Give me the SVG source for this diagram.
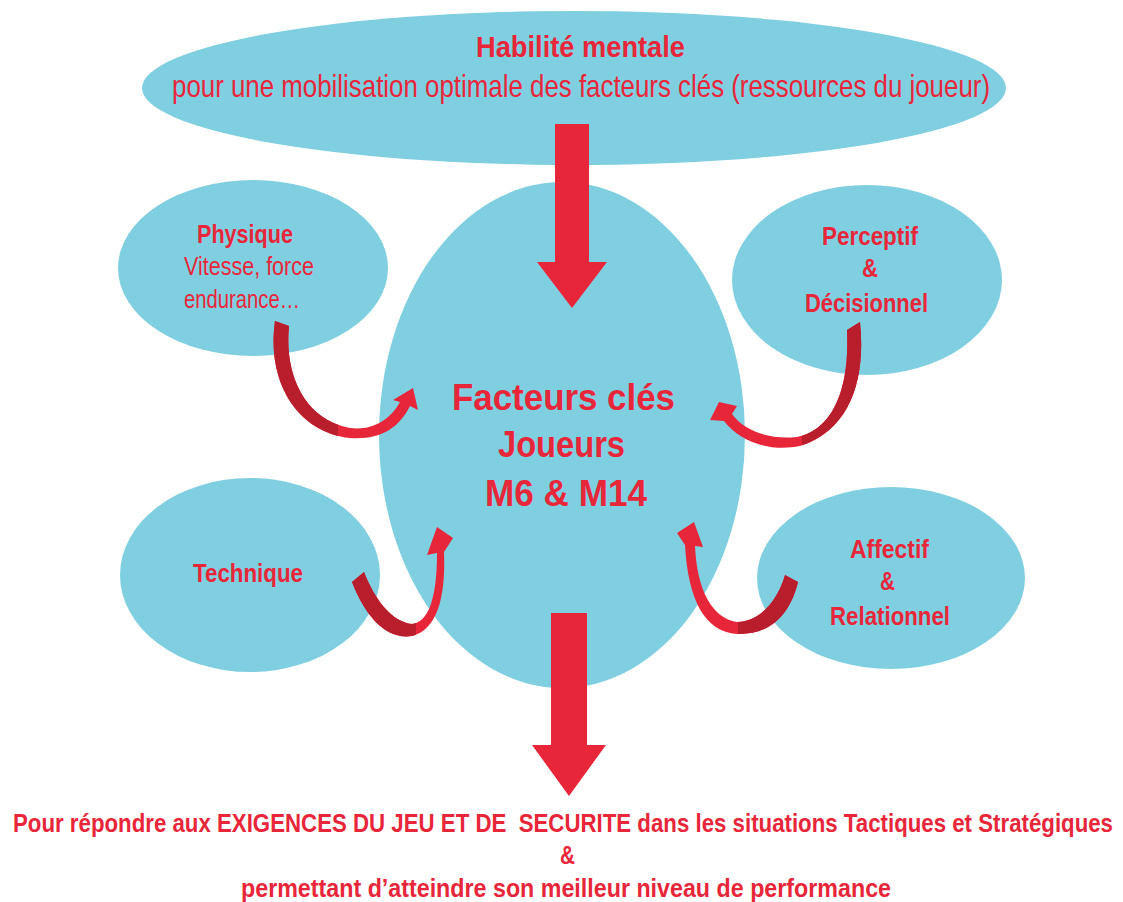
<svg xmlns="http://www.w3.org/2000/svg" width="1123" height="902" viewBox="0 0 1123 902">
<style>
.bub{fill:#80CFE1}
.t{fill:#E8263A;font-family:"Liberation Sans",Arial,sans-serif}
.b{font-weight:bold}
.bright{fill:#E8263A}
.dark{fill:#B81E2C}
</style>
<defs>
<clipPath id="c1"><rect x="0" y="0" width="338" height="902"/></clipPath>
<clipPath id="c2"><rect x="0" y="0" width="416" height="902"/></clipPath>
<clipPath id="c3"><rect x="802" y="0" width="400" height="902"/></clipPath>
<clipPath id="c4"><rect x="738" y="0" width="400" height="902"/></clipPath>
<path id="a1" d="M275,321 L289,326 C284,375 305,420 350,428 C372,431 390,420 400,402 L393,400 L413,388 L418,410 L410,406 C398,430 378,440 350,438 C300,433 266,385 275,321 Z"/>
<path id="a2" d="M352,582 L364,572 C375,600 392,622 412,624 C428,622 437,600 437,553 L427,555 L437,527 L453,538 L444,552 C446,600 436,630 412,636 C385,640 365,615 352,582 Z"/>
<path id="a3" d="M847,330 L860,322 C866,380 850,430 800,446 C770,452 740,442 724,421 L710,420 L719,402 L737,406 L732,414 C745,432 772,440 797,437 C832,430 850,390 847,330 Z"/>
<path id="a4" d="M785,575 L798,582 C790,615 770,635 737,634 C705,632 688,600 685,545 L677,533 L694,522 L703,547 L695,546 C697,590 712,618 737,622 C760,622 778,600 785,575 Z"/>
</defs>
<rect width="1123" height="902" fill="#ffffff"/>

<g id="node-habilite">
<ellipse class="bub" cx="574" cy="88" rx="432" ry="77"/>
<text class="t b" x="476" y="57" font-size="30" textLength="209" lengthAdjust="spacingAndGlyphs">Habilité mentale</text>
<text class="t" x="172" y="97" font-size="32" textLength="818" lengthAdjust="spacingAndGlyphs">pour une mobilisation optimale des facteurs clés (ressources du joueur)</text>
</g>

<g id="node-physique">
<ellipse class="bub" cx="253" cy="268" rx="135" ry="88"/>
<text class="t b" x="197" y="243" font-size="25" textLength="96" lengthAdjust="spacingAndGlyphs">Physique</text>
<text class="t" x="184" y="275" font-size="25" textLength="130" lengthAdjust="spacingAndGlyphs">Vitesse, force</text>
<text class="t" x="184" y="308" font-size="25" textLength="116" lengthAdjust="spacingAndGlyphs">endurance…</text>
</g>

<g id="node-perceptif">
<ellipse class="bub" cx="867" cy="280" rx="135" ry="95"/>
<text class="t b" x="822" y="245" font-size="25" textLength="96" lengthAdjust="spacingAndGlyphs">Perceptif</text>
<text class="t b" x="862" y="277" font-size="25" textLength="16" lengthAdjust="spacingAndGlyphs">&amp;</text>
<text class="t b" x="805" y="312" font-size="25" textLength="123" lengthAdjust="spacingAndGlyphs">Décisionnel</text>
</g>

<g id="node-technique">
<ellipse class="bub" cx="250" cy="575" rx="130" ry="97"/>
<text class="t b" x="193" y="582" font-size="25" textLength="110" lengthAdjust="spacingAndGlyphs">Technique</text>
</g>

<g id="node-affectif">
<ellipse class="bub" cx="891" cy="578" rx="134" ry="91"/>
<text class="t b" x="850" y="558" font-size="25" textLength="79" lengthAdjust="spacingAndGlyphs">Affectif</text>
<text class="t b" x="880" y="590" font-size="25" textLength="15" lengthAdjust="spacingAndGlyphs">&amp;</text>
<text class="t b" x="830" y="625" font-size="25" textLength="120" lengthAdjust="spacingAndGlyphs">Relationnel</text>
</g>

<g id="node-facteurs">
<ellipse class="bub" cx="562" cy="435" rx="183" ry="253"/>
<text class="t b" x="452" y="410" font-size="36" textLength="223" lengthAdjust="spacingAndGlyphs">Facteurs clés</text>
<text class="t b" x="498" y="457" font-size="36" textLength="127" lengthAdjust="spacingAndGlyphs">Joueurs</text>
<text class="t b" x="485" y="506" font-size="36" textLength="162" lengthAdjust="spacingAndGlyphs">M6 &amp; M14</text>
</g>

<g id="node-exigences">
<text class="t b" x="13" y="832" font-size="26" textLength="1100" lengthAdjust="spacingAndGlyphs" style="white-space:pre">Pour répondre aux EXIGENCES DU JEU ET DE  SECURITE dans les situations Tactiques et Stratégiques</text>
<text class="t b" x="560" y="864" font-size="26" textLength="15" lengthAdjust="spacingAndGlyphs">&amp;</text>
<text class="t b" x="241" y="897" font-size="26" textLength="650" lengthAdjust="spacingAndGlyphs">permettant d’atteindre son meilleur niveau de performance</text>
</g>

<g id="connectors">
<polygon class="bright" points="555,124 589,124 589,262 607,262 572,308 537,262 555,262"/>
<polygon class="bright" points="551,613 587,613 587,745 606,745 569,796 532,745 551,745"/>
<use href="#a1" class="bright"/>
<use href="#a1" class="dark" clip-path="url(#c1)"/>
<use href="#a2" class="bright"/>
<use href="#a2" class="dark" clip-path="url(#c2)"/>
<use href="#a3" class="bright"/>
<use href="#a3" class="dark" clip-path="url(#c3)"/>
<use href="#a4" class="bright"/>
<use href="#a4" class="dark" clip-path="url(#c4)"/>
</g>
</svg>
